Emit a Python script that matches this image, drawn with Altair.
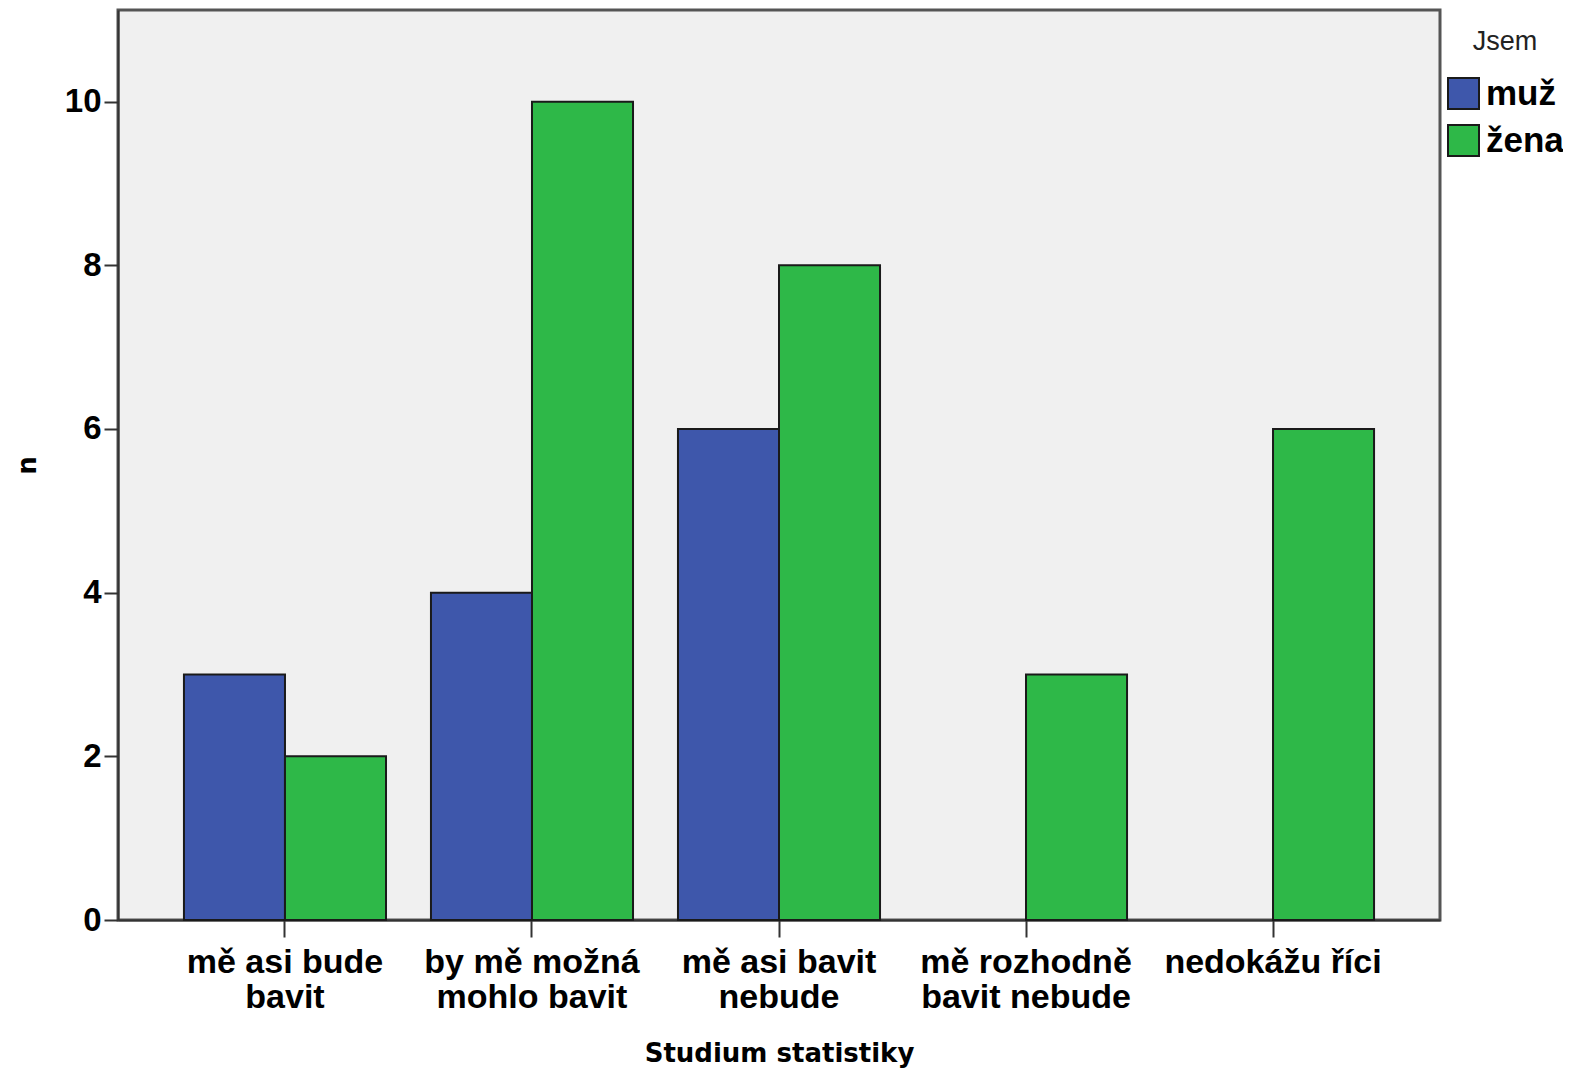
import altair as alt
import pandas as pd

categories = ["mě asi bude|bavit", "by mě možná|mohlo bavit", "mě asi bavit|nebude",
              "mě rozhodně|bavit nebude", "nedokážu říci"]
groups = ["muž", "žena"]
muz = [3, 4, 6, 0, 0]
zena = [2, 10, 8, 3, 6]
y_ticks = [0, 2, 4, 6, 8, 10]

rows = []
for c, m, z in zip(categories, muz, zena):
    if m:
        rows.append({"cat": c, "sex": "muž", "n": m})
    if z:
        rows.append({"cat": c, "sex": "žena", "n": z})
df = pd.DataFrame(rows)

FONT = "Liberation Sans"
TFONT = "DejaVu Sans"
blue = "#3E57AB"
green = "#2EB848"

chart = alt.Chart(df).mark_bar(stroke="#1a1a1a", strokeWidth=2).encode(
    x=alt.X("cat:N", sort=categories,
            scale=alt.Scale(paddingInner=0.182, paddingOuter=0.267),
            axis=alt.Axis(labelExpr="split(datum.label, '|')", labelAngle=0,
                          labelFont=FONT, labelFontSize=34, labelFontWeight="bold",
                          labelColor="#000", labelLineHeight=35, labelPadding=8,
                          labelOverlap=False, labelLimit=400,
                          tickSize=17, tickColor="#333", tickWidth=2,
                          domainColor="#333", domainWidth=2,
                          titleFont=TFONT, titleFontSize=26, titleFontWeight="bold",
                          titleColor="#000", titlePadding=26),
            title="Studium statistiky"),
    xOffset=alt.XOffset("sex:N", scale=alt.Scale(domain=groups, paddingInner=0, paddingOuter=0)),
    y=alt.Y("n:Q", scale=alt.Scale(domain=[0, 11.12], nice=False),
            axis=alt.Axis(values=y_ticks, grid=False,
                          labelFont=FONT, labelFontSize=33, labelFontWeight="bold",
                          labelColor="#000", labelPadding=3,
                          tickSize=14, tickColor="#333", tickWidth=2,
                          domainColor="#333", domainWidth=2,
                          titleFont=TFONT, titleFontSize=26, titleFontWeight="bold",
                          titleColor="#000", titlePadding=24),
            title="n"),
    color=alt.Color("sex:N", scale=alt.Scale(domain=groups, range=[blue, green]),
                    legend=alt.Legend(title="Jsem", orient="none", legendX=1328, legendY=19,
                                      titleFont=FONT, titleFontSize=27, titleFontWeight="normal",
                                      titleColor="#222", titleAnchor="middle", titlePadding=20,
                                      labelFont=FONT, labelFontSize=35, labelFontWeight="bold",
                                      labelColor="#000", labelOffset=5,
                                      symbolType="square", symbolSize=961,
                                      symbolStrokeColor="#1a1a1a", symbolStrokeWidth=2,
                                      symbolOpacity=1, rowPadding=8))
).properties(
    width=1322, height=910,
    autosize=alt.AutoSizeParams(type="none"),
    padding={"left": 110, "top": 2, "right": 123, "bottom": 153},
    background="white"
).configure_view(
    fill="#F0F0F0", stroke="#555555", strokeWidth=3
)

chart.save("out.html", embed_options={"renderer": "svg", "actions": False})
